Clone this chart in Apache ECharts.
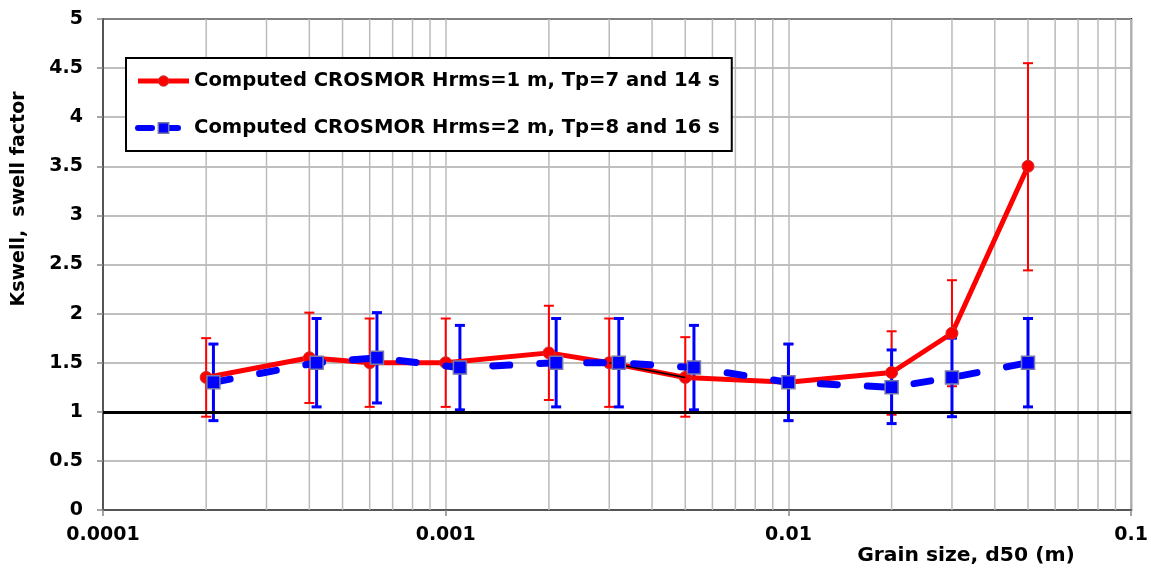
<!DOCTYPE html>
<html>
<head>
<meta charset="utf-8">
<script src="https://cdn.jsdelivr.net/npm/echarts@6/dist/echarts.min.js"></script>
<style>
html,body{margin:0;padding:0;background:#fff;}
#chart{width:1151px;height:571px;}
</style>
</head>
<body>
<div id="chart"></div>
<script>
// ---- data ----
var xRed = [0.0002, 0.0004, 0.0006, 0.001, 0.002, 0.003, 0.005, 0.01, 0.02, 0.03, 0.05];
var yRed = [1.35, 1.55, 1.5, 1.5, 1.6, 1.5, 1.35, 1.3, 1.4, 1.8, 3.5];
var redHigh = [1.75, 2.01, 1.95, 1.95, 2.08, 1.95, 1.76, 1.69, 1.82, 2.34, 4.55];
var redLow = [0.95, 1.09, 1.05, 1.05, 1.12, 1.05, 0.95, 0.91, 0.97, 1.26, 2.44];

var xBlue = [0.00021, 0.00042, 0.00063, 0.0011, 0.0021, 0.0032, 0.0053, 0.01, 0.02, 0.03, 0.05];
var yBlue = [1.3, 1.5, 1.55, 1.45, 1.5, 1.5, 1.45, 1.3, 1.25, 1.35, 1.5];
var blueHigh = [1.69, 1.95, 2.01, 1.88, 1.95, 1.95, 1.88, 1.69, 1.63, 1.75, 1.95];
var blueLow = [0.91, 1.05, 1.09, 1.02, 1.05, 1.05, 1.02, 0.91, 0.88, 0.95, 1.05];

var blackSegX = [0.003, 0.005];
var blackSegY = [1.5, 1.35];

var xTickLabels = ['0.0001', '0.001', '0.01', '0.1'];
var minorGridX = [];
[0.0001, 0.001, 0.01].forEach(function (d) {
  for (var k = 2; k <= 9; k++) minorGridX.push(+(k * d).toPrecision(3));
});
var refLineY = 1;

var seriesNames = ['Computed CROSMOR Hrms=1 m, Tp=7 and 14 s', 'Computed CROSMOR Hrms=2 m, Tp=8 and 16 s'];
var xName = 'Grain size, d50 (m)';
var yName = 'Kswell,  swell factor';

// ---- chart ----
var FONT = '"DejaVu Sans", sans-serif';
var chart = echarts.init(document.getElementById('chart'));

function zip(xs, ys) { return xs.map(function (x, i) { return [x, ys[i]]; }); }
function errData(xs, lo, hi) { return xs.map(function (x, i) { return [x, lo[i], hi[i]]; }); }
function errRender(color, lw, cap) {
  return function (params, api) {
    var x = api.value(0), lo = api.value(1), hi = api.value(2);
    var p1 = api.coord([x, hi]), p2 = api.coord([x, lo]);
    var st = { stroke: color, lineWidth: lw };
    return {
      type: 'group',
      children: [
        { type: 'line', shape: { x1: p1[0], y1: p1[1], x2: p2[0], y2: p2[1] }, style: st },
        { type: 'line', shape: { x1: p1[0] - cap, y1: p1[1], x2: p1[0] + cap, y2: p1[1] }, style: st },
        { type: 'line', shape: { x1: p2[0] - cap, y1: p2[1], x2: p2[0] + cap, y2: p2[1] }, style: st }
      ]
    };
  };
}
function gridRender(params, api) {
  var cs = params.coordSys;
  var p = api.coord([api.value(0), 1]);
  return { type: 'line', shape: { x1: p[0], y1: cs.y, x2: p[0], y2: cs.y + cs.height },
    style: { stroke: '#bbb', lineWidth: 1.5 } };
}

var option = {
  animation: false,
  backgroundColor: '#fff',
  grid: { left: 103, right: 19, top: 19, bottom: 61, show: true, borderColor: '#000', borderWidth: 2, backgroundColor: 'transparent' },
  legend: {
    data: [
      { name: seriesNames[0],
        itemStyle: { color: '#ff0000', borderColor: '#c83232', borderWidth: 1 },
        lineStyle: { color: '#ff0000', width: 5, type: 'solid' } },
      { name: seriesNames[1],
        itemStyle: { color: '#0000ff', borderColor: '#7878a8', borderWidth: 1.5 },
        lineStyle: { color: '#0000ff', width: 6, type: [14, 12], cap: 'round' } }
    ],
    orient: 'vertical',
    left: 126, top: 58,
    backgroundColor: '#fff',
    borderColor: '#000', borderWidth: 2,
    padding: [12, 12, 12, 9],
    itemWidth: 51, itemHeight: 13, itemGap: 25,
    textStyle: { fontFamily: FONT, fontWeight: 'bold', fontSize: 19.6, color: '#000', lineHeight: 22 },
    selectedMode: false
  },
  xAxis: {
    type: 'log', logBase: 10, min: 0.0001, max: 0.1,
    axisLine: { show: true, lineStyle: { color: '#555', width: 2 } },
    axisTick: { show: true, length: 6, lineStyle: { color: '#888', width: 1.5 } },
    axisLabel: {
      margin: 16,
      fontFamily: FONT, fontWeight: 'bold', fontSize: 19, color: '#000',
      formatter: function (v) { return xTickLabels[Math.round(Math.log10(v)) + 4]; }
    },
    splitLine: { show: true, lineStyle: { color: '#bbb', width: 1.5 } },
    minorTick: { show: false }
  },
  yAxis: {
    type: 'value', min: 0, max: 5, interval: 0.5,
    axisLine: { show: true, lineStyle: { color: '#555', width: 2 } },
    axisTick: { show: true, length: 6, lineStyle: { color: '#888', width: 1.5 } },
    axisLabel: { margin: 20, fontFamily: FONT, fontWeight: 'bold', fontSize: 19, color: '#000' },
    splitLine: { show: true, lineStyle: { color: '#aaa', width: 1.5 } }
  },
  graphic: [
    { type: 'text', x: 19, y: 199, rotation: Math.PI / 2, z: 10,
      style: { text: yName, font: 'bold 19px ' + FONT, fill: '#000', textAlign: 'center', textVerticalAlign: 'middle' } },
    { type: 'text', x: 966, y: 556, z: 10,
      style: { text: xName, font: 'bold 20.3px ' + FONT, fill: '#000', textAlign: 'center', textVerticalAlign: 'middle' } }
  ],
  series: [
    {
      type: 'custom', name: 'minorGrid', renderItem: gridRender,
      data: minorGridX.map(function (v) { return [v]; }), encode: { x: 0 }, z: 1, silent: true
    },
    {
      type: 'custom', name: 'redErr', renderItem: errRender('#ff0000', 2, 5),
      data: errData(xRed, redLow, redHigh), encode: { x: 0, y: [1, 2] }, z: 3, silent: true
    },
    {
      type: 'custom', name: 'blueErr', renderItem: errRender('#0000ff', 3, 5),
      data: errData(xBlue, blueLow, blueHigh), encode: { x: 0, y: [1, 2] }, z: 3, silent: true
    },
    {
      type: 'line', name: seriesNames[0], data: zip(xRed, yRed), z: 5,
      symbol: 'circle', symbolSize: 12,
      lineStyle: { color: '#ff0000', width: 5 },
      itemStyle: { color: '#ff0000', borderColor: '#c83232', borderWidth: 1 }
    },
    {
      type: 'line', name: 'blackSeg', data: zip(blackSegX, blackSegY), z: 6,
      symbol: 'none', lineStyle: { color: '#000', width: 1.5 }, silent: true
    },
    {
      type: 'line', name: seriesNames[1], data: zip(xBlue, yBlue), z: 7,
      symbol: 'rect', symbolSize: 13,
      lineStyle: { color: '#0000ff', width: 7, type: [17, 30], cap: 'round' },
      itemStyle: { color: '#0000ff', borderColor: '#7878a8', borderWidth: 1.5 },
      markLine: {
        silent: true, symbol: 'none', label: { show: false }, z: 8,
        lineStyle: { color: '#000', width: 3, type: 'solid' },
        data: [{ yAxis: refLineY }]
      }
    }
  ]
};
chart.setOption(option);
</script>
</body>
</html>
